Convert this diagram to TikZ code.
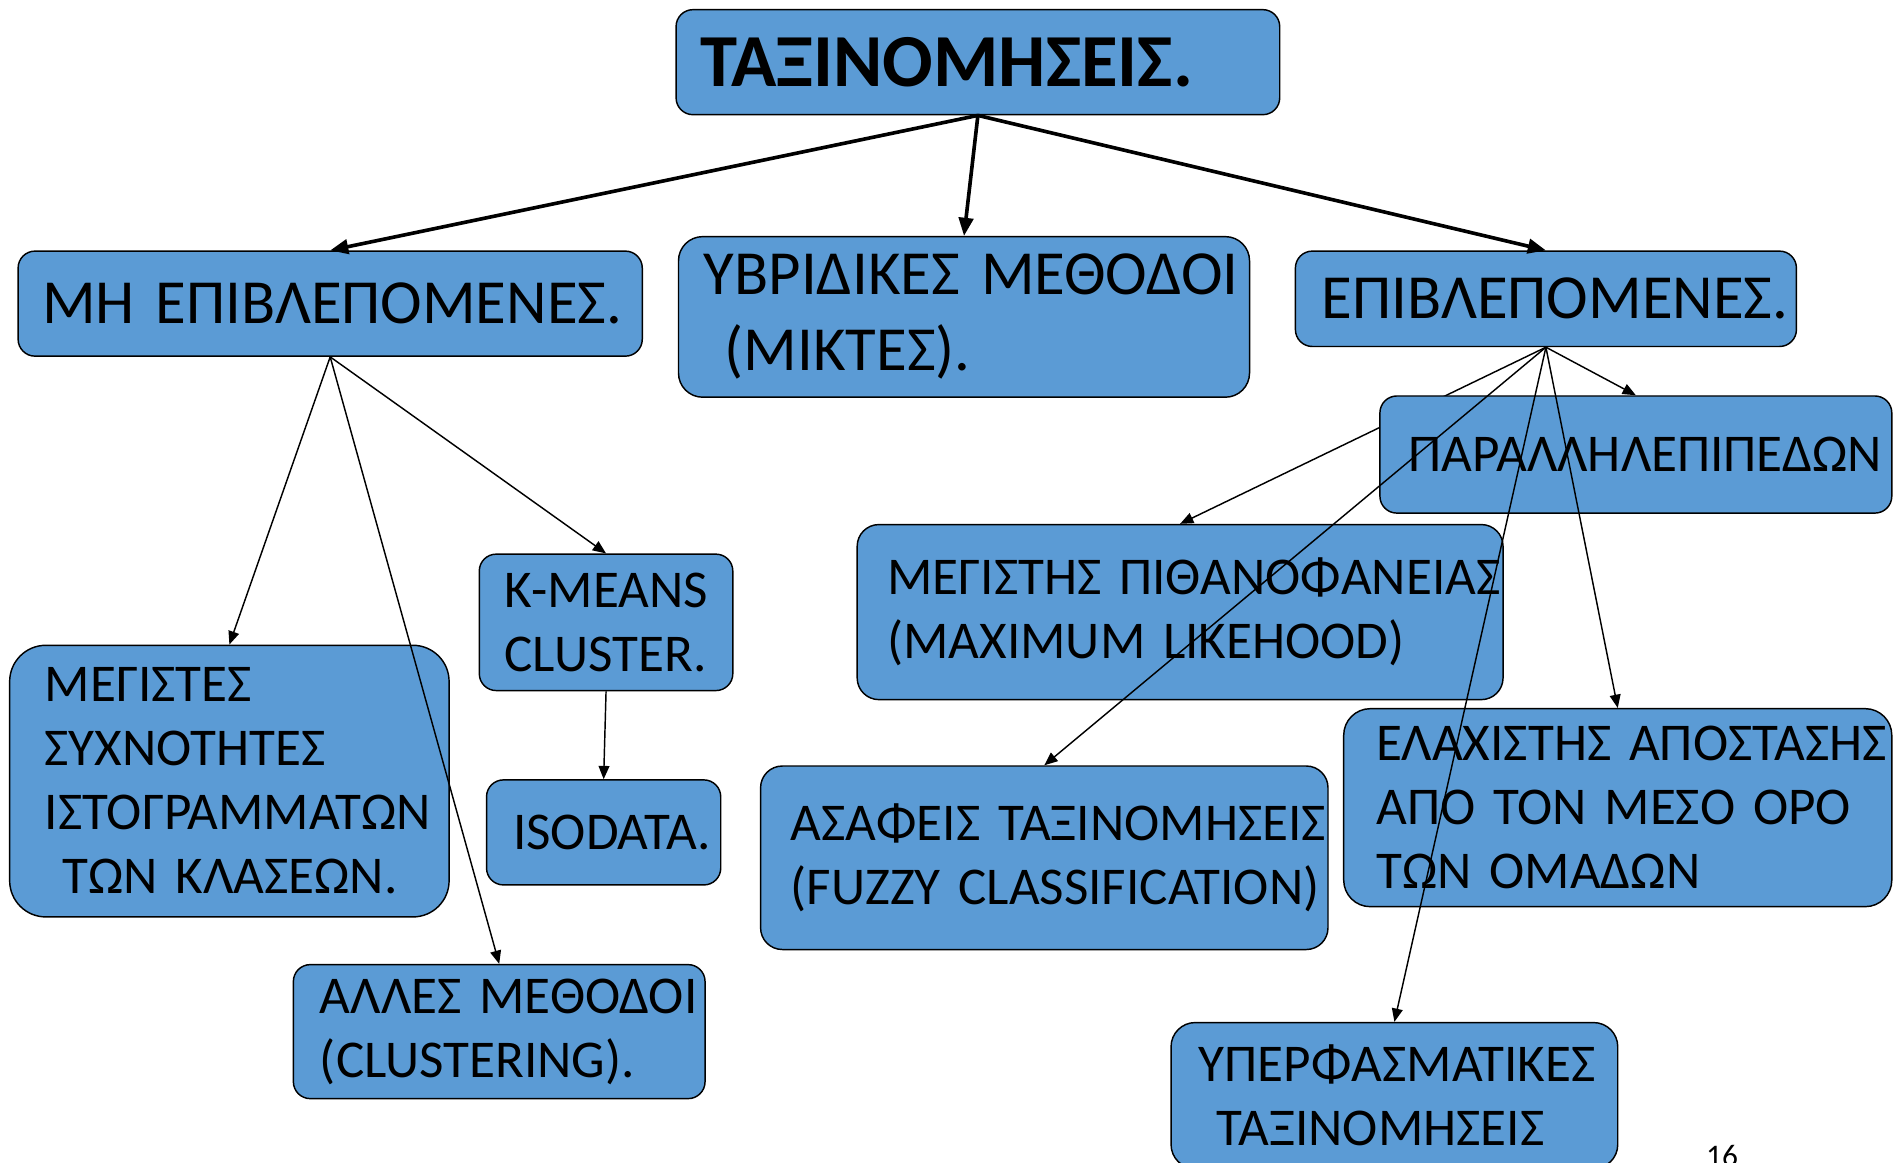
\documentclass[tikz,border=0pt]{standalone}
\usepackage{fontspec}
\setmainfont{Carlito}[WordSpace={0.6,0,0}]
\usetikzlibrary{arrows.meta}

\definecolor{boxblue}{RGB}{91,155,213}

\tikzset{
  blk/.style={draw=black, line width=1.2pt, fill=boxblue, rounded corners=14pt,
    align=left, inner xsep=0pt, inner ysep=0pt,
    font=\fontsize{44}{53}\selectfont},
  big/.style={font=\fontsize{52}{63}\selectfont},
  lnk/.style={line width=1.2pt, -{Triangle[length=11pt,width=9pt]}},
  main/.style={line width=3pt, -{Triangle[length=15pt,width=12pt]}},
}

\begin{document}
\begin{tikzpicture}[x=1pt,y=-1pt]
    \useasboundingbox (0,0) rectangle (1568,963);
    % top level
    \node[blk, minimum width=500pt, minimum height=87pt, text width=460pt,
      font=\fontsize{62}{70}\selectfont\bfseries] (top) at (810,51.5) {ΤΑΞΙΝΟΜΗΣΕΙΣ.};
    \node[blk, big, minimum width=517pt, minimum height=87pt, text width=477pt] (mh) at (273.5,251.5) {\mbox{ΜΗ ΕΠΙΒΛΕΠΟΜΕΝΕΣ.}};
    \node[blk, big, rounded corners=20pt, minimum width=473pt, minimum height=133pt, text width=431pt] (hyb) at (798.5,262.5)
      {\mbox{ΥΒΡΙΔΙΚΕΣ ΜΕΘΟΔΟΙ}\\\mbox{ (ΜΙΚΤΕΣ).}};
    \node[blk, big, minimum width=415pt, minimum height=79pt, text width=371pt] (epi) at (1280.5,247.5) {ΕΠΙΒΛΕΠΟΜΕΝΕΣ.};
    % supervised
    \node[blk, rounded corners=18pt, minimum width=535pt, minimum height=145pt, text width=485pt] (meg) at (977.5,507)
      {\mbox{ΜΕΓΙΣΤΗΣ ΠΙΘΑΝΟΦΑΝΕΙΑΣ}\\\mbox{(MAXIMUM LIKEHOOD)}};
    \node[blk, rounded corners=18pt, minimum width=470pt, minimum height=152pt, text width=420pt] (fuzzy) at (865,710.5)
      {\mbox{ΑΣΑΦΕΙΣ ΤΑΞΙΝΟΜΗΣΕΙΣ}\\\mbox{(FUZZY CLASSIFICATION)}};
    \node[blk, rounded corners=22pt, minimum width=454pt, minimum height=164pt, text width=400pt] (mind) at (1340,669)
      {\mbox{ΕΛΑΧΙΣΤΗΣ ΑΠΟΣΤΑΣΗΣ}\\\mbox{ΑΠΟ ΤΟΝ ΜΕΣΟ ΟΡΟ}\\\mbox{ΤΩΝ ΟΜΑΔΩΝ}};
    \node[blk, rounded corners=20pt, minimum width=370pt, minimum height=121pt, text width=324pt] (hyper) at (1155,907.5)
      {ΥΠΕΡΦΑΣΜΑΤΙΚΕΣ\\\mbox{ ΤΑΞΙΝΟΜΗΣΕΙΣ}};
    % unsupervised
    \node[blk, minimum width=210pt, minimum height=113pt, text width=168pt] (kmeans) at (502,515.5) {\mbox{K-MEANS}\\\mbox{CLUSTER.}};
    \node[blk, minimum width=194pt, minimum height=87pt, text width=150pt] (iso) at (500,689.5) {ISODATA.};
    \node[blk, rounded corners=30pt, minimum width=364pt, minimum height=225pt, text width=306pt] (freq) at (190,647)
      {ΜΕΓΙΣΤΕΣ\\ΣΥΧΝΟΤΗΤΕΣ\\ΙΣΤΟΓΡΑΜΜΑΤΩΝ\\\mbox{ ΤΩΝ ΚΛΑΣΕΩΝ.}};
    \node[blk, minimum width=341pt, minimum height=111pt, text width=297pt] (other) at (413.5,854.5)
      {\mbox{ΑΛΛΕΣ ΜΕΘΟΔΟΙ}\\\mbox{(CLUSTERING).}};
    % this one runs under the box
    \draw[lnk] (epi.south) -- (meg.north);
    \node[blk, minimum width=424pt, minimum height=97pt, text width=376pt] (par) at (1355,376.5) {ΠΑΡΑΛΛΗΛΕΠΙΠΕΔΩΝ};
    % connectors
    \foreach \n in {mh,hyb,epi}
      \draw[main] (top.south) -- (\n.north);
    \foreach \n in {freq,kmeans,other}
      \draw[lnk] (mh.south) -- (\n.north);
    \draw[lnk] (kmeans.south) -- (iso.north);
    \foreach \n in {par,fuzzy,mind,hyper}
      \draw[lnk] (epi.south) -- (\n.north);
    \node[font=\fontsize{26}{30}\selectfont, anchor=base west, inner sep=0pt] (pgno) at (1413,966) {16};
  \end{tikzpicture}
\end{document}
